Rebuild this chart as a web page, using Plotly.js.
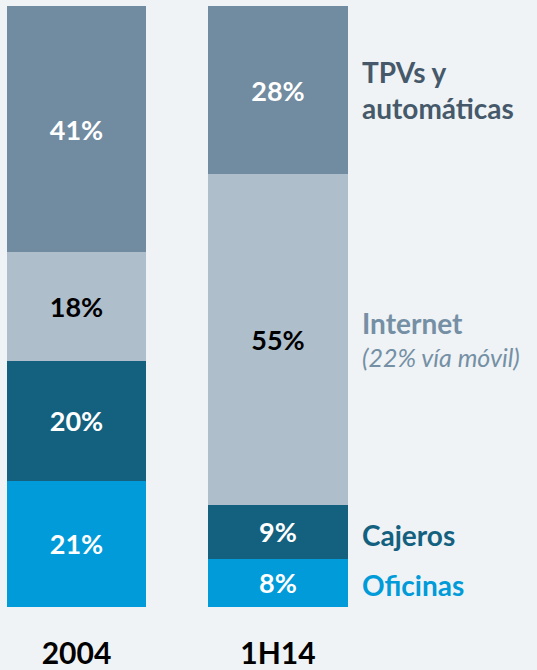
<!DOCTYPE html>
<html><head><meta charset="utf-8">
<script src="https://cdn.plot.ly/plotly-3.0.1.min.js"></script>
<style>html,body{margin:0;padding:0;background:#eff3f5;}</style>
</head><body><div id="chart" style="width:537px;height:670px;"></div>
<script>
const categories = ["2004", "1H14"];
const oficinas = [21, 8];
const cajeros = [20, 9];
const internet = [18, 55];
const tpvs = [41, 28];
const seriesNames = ["Oficinas", "Cajeros", "Internet", "TPVs y automáticas"];
const seriesValues = [oficinas, cajeros, internet, tpvs];
const colors = ["#009bd8", "#13617f", "#aebecb", "#718ba0"];
const textColors = ["#ffffff", "#ffffff", "#000000", "#ffffff"];
const labelColors = ["#009bd8", "#13617f", "#7590a5", "#46596a"];

const FONT = "Lato, 'Open Sans', sans-serif";
const traces = seriesValues.map((vals, i) => ({
  type: "bar", x: categories, y: vals, name: seriesNames[i],
  width: 0.69,
  marker: {color: colors[i], line: {width: 0}},
  text: vals.map(v => "<b>" + v + "%</b>"),
  textposition: "inside", insidetextanchor: "middle", textangle: 0,
  textfont: {family: FONT, size: 27, color: textColors[i]},
  hoverinfo: "skip"
}));

function mid(idx) {
  let base = 0;
  for (let k = 0; k < idx; k++) base += seriesValues[k][1];
  return base + seriesValues[idx][1] / 2;
}
const labX = 1.405;
const annotations = [
  {x: labX, y: mid(3), text: "<b>TPVs y<br>automáticas</b>", color: labelColors[3], size: 28, shift: 0},
  {x: labX, y: mid(2), text: "<b>Internet</b>", color: labelColors[2], size: 28, shift: 17},
  {x: labX, y: mid(2), text: "<i>(22% vía móvil)</i>", color: labelColors[2], size: 25, shift: -17},
  {x: labX, y: mid(1), text: "<b>Cajeros</b>", color: labelColors[1], size: 28, shift: -3},
  {x: labX, y: mid(0), text: "<b>Oficinas</b>", color: labelColors[0], size: 28, shift: -2}
].map(a => ({
  x: a.x, y: a.y, xref: "x", yref: "y", text: a.text, showarrow: false,
  xanchor: "left", yanchor: "middle", align: "left", yshift: a.shift,
  font: {family: FONT, size: a.size, color: a.color}
}));

const layout = {
  width: 537, height: 670,
  margin: {l: 0, r: 0, t: 6, b: 63},
  paper_bgcolor: "#eff3f5", plot_bgcolor: "#eff3f5",
  barmode: "stack", showlegend: false,
  xaxis: {type: "category", range: [-0.3797, 2.2854], showgrid: false, zeroline: false,
    showline: false, ticks: "", ticklabelstandoff: 26,
    tickfont: {family: FONT, size: 30, color: "#000000", weight: "bold"}},
  yaxis: {range: [0, 100], visible: false, showgrid: false, zeroline: false},
  annotations: annotations,
  uniformtext: {mode: false}
};
Plotly.newPlot("chart", traces, layout, {staticPlot: true, displayModeBar: false});
</script></body></html>
